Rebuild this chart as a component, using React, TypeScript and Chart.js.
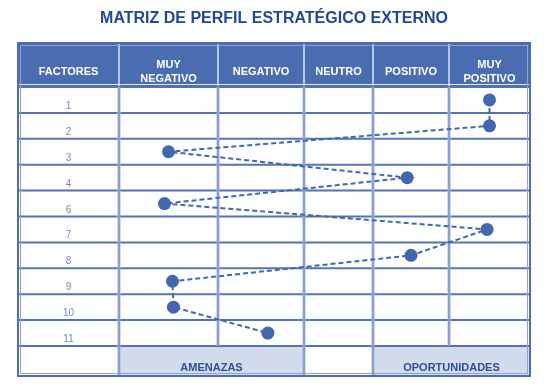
import React, { useEffect, useRef } from 'react';
import { Chart, registerables, LinearScale } from 'chart.js';

Chart.register(...registerables);

// ---- data ----
const TITLE = 'MATRIZ DE PERFIL ESTRATÉGICO EXTERNO';
const COLUMN_LABELS: (string | string[])[] = ['FACTORES', ['MUY', 'NEGATIVO'], 'NEGATIVO', 'NEUTRO', 'POSITIVO', ['MUY', 'POSITIVO']];
const ROW_LABELS = ['1', '2', '3', '4', '6', '7', '8', '9', '10', '11'];
// position along the rating columns (1 = muy negativo ... 5 = muy positivo; column k spans [k, k+1])
const RATINGS = [5.5, 5.5, 1.5, 4.45, 1.46, 5.47, 4.5, 1.54, 1.55, 2.58];
const FOOTER_GROUPS = [
  { label: 'AMENAZAS', from: 1, to: 3 },
  { label: 'OPORTUNIDADES', from: 4, to: 6 },
];

// ---- layout ----
const COLUMN_WIDTHS = [101, 99, 86, 69, 76, 81];
const HEADER_H = 44;
const FOOTER_H = 30;
const FONT = '"Liberation Sans", Arial, sans-serif';
const HEADER_BLUE = '#4A6CB0';
const FOOTER_FILL = '#D2DCEE';
const MARK = '#4267AE';

class ColumnScale extends LinearScale {
  static id = 'column';
  static defaults = (LinearScale as any).defaults;
  getPixelForValue(value: number) {
    if (value === null || value === undefined || isNaN(value)) return NaN;
    const total = COLUMN_WIDTHS.reduce((a, b) => a + b, 0);
    const i = Math.max(0, Math.min(Math.floor(value), COLUMN_WIDTHS.length - 1));
    let acc = 0;
    for (let k = 0; k < i; k++) acc += COLUMN_WIDTHS[k];
    acc += (value - i) * COLUMN_WIDTHS[i];
    return (this as any).getPixelForDecimal(acc / total);
  }
}
Chart.register(ColumnScale as any);

const tablePlugin = {
  id: 'tablePlugin',
  beforeDatasetsDraw(chart: any) {
    const { ctx, chartArea, scales } = chart;
    const xs = scales.x;
    const ys = scales.y;
    const colX = COLUMN_WIDTHS.map((_, k) => xs.getPixelForValue(k)).concat([xs.getPixelForValue(COLUMN_WIDTHS.length)]);
    colX[colX.length - 1] = chartArea.right;
    const rowY = ROW_LABELS.map((_, i) => ys.getPixelForValue(i - 0.5)).concat([ys.getPixelForValue(ROW_LABELS.length - 0.5)]);
    const top = chartArea.top - HEADER_H;
    const bottom = chartArea.bottom + FOOTER_H;
    const left = chartArea.left;
    const right = chartArea.right;
    ctx.save();

    // title
    ctx.fillStyle = '#1F4794';
    ctx.font = `bold 16px ${FONT}`;
    ctx.textAlign = 'center';
    ctx.textBaseline = 'middle';
    ctx.fillText(TITLE, (left + right) / 2, 19);

    // header fill
    ctx.fillStyle = HEADER_BLUE;
    ctx.fillRect(left, top, right - left, HEADER_H);
    // footer fills
    FOOTER_GROUPS.forEach((g) => {
      ctx.fillStyle = FOOTER_FILL;
      ctx.fillRect(colX[g.from], chartArea.bottom, colX[g.to] - colX[g.from], FOOTER_H);
    });

    // header separators
    ctx.strokeStyle = '#B7C7E8';
    ctx.lineWidth = 2;
    for (let k = 1; k < colX.length - 1; k++) {
      ctx.beginPath();
      ctx.moveTo(colX[k], top);
      ctx.lineTo(colX[k], chartArea.top);
      ctx.stroke();
    }

    // horizontal lines
    ctx.strokeStyle = '#5473B6';
    ctx.lineWidth = 2;
    rowY.forEach((y) => {
      ctx.beginPath();
      ctx.moveTo(left, y);
      ctx.lineTo(right, y);
      ctx.stroke();
    });
    ctx.strokeStyle = '#E6ECF7';
    ctx.lineWidth = 1;
    ctx.beginPath();
    ctx.moveTo(left, chartArea.top - 2.5);
    ctx.lineTo(right, chartArea.top - 2.5);
    ctx.stroke();

    // vertical lines in body and footer
    for (let k = 1; k < colX.length - 1; k++) {
      const merged = FOOTER_GROUPS.some((g) => k > g.from && k < g.to);
      const yEnd = merged ? chartArea.bottom : bottom;
      ctx.strokeStyle = '#A3B6DE';
      ctx.lineWidth = 3;
      ctx.beginPath();
      ctx.moveTo(colX[k], chartArea.top);
      ctx.lineTo(colX[k], yEnd);
      ctx.stroke();
      ctx.strokeStyle = '#6F8AC3';
      ctx.lineWidth = 1;
      ctx.beginPath();
      ctx.moveTo(colX[k], chartArea.top);
      ctx.lineTo(colX[k], yEnd);
      ctx.stroke();
    }

    // outer border
    ctx.strokeStyle = '#8FA4D3';
    ctx.lineWidth = 1;
    ctx.strokeRect(left + 2.5, top + 2.5, right - left - 5, bottom - top - 5);
    ctx.strokeStyle = '#4E6EB2';
    ctx.lineWidth = 2;
    ctx.strokeRect(left, top, right - left, bottom - top);

    // header labels
    ctx.fillStyle = '#FFFFFF';
    ctx.font = `bold 11px ${FONT}`;
    ctx.textBaseline = 'middle';
    COLUMN_LABELS.forEach((lab, k) => {
      const cx = (colX[k] + colX[k + 1]) / 2;
      const cy = top + HEADER_H / 2 + 7;
      if (Array.isArray(lab)) {
        ctx.fillText(lab[0], cx, cy - 7);
        ctx.fillText(lab[1], cx, cy + 7);
      } else {
        ctx.fillText(lab, cx, cy);
      }
    });

    // row labels
    ctx.fillStyle = '#6E8AC5';
    ctx.font = `10px ${FONT}`;
    ctx.textBaseline = 'alphabetic';
    ROW_LABELS.forEach((lab, i) => {
      ctx.fillText(lab, (colX[0] + colX[1]) / 2, rowY[i + 1] - 4);
    });

    // footer labels
    ctx.fillStyle = '#2D4F9B';
    ctx.font = `bold 11px ${FONT}`;
    FOOTER_GROUPS.forEach((g) => {
      ctx.fillText(g.label, (colX[g.from] + colX[g.to]) / 2, bottom - 5);
    });
    ctx.restore();
  },
};

export default function App() {
  const ref = useRef<HTMLCanvasElement>(null);
  useEffect(() => {
    if (!ref.current) return;
    const chart = new Chart(ref.current, {
      type: 'line',
      data: {
        labels: ROW_LABELS,
        datasets: [
          {
            data: RATINGS,
            borderColor: MARK,
            backgroundColor: MARK,
            borderWidth: 2,
            borderDash: [5, 3],
            pointRadius: 6.5,
            pointBorderWidth: 0,
            pointBackgroundColor: MARK,
            tension: 0,
            fill: false,
          },
        ],
      },
      options: {
        indexAxis: 'y',
        animation: false,
        responsive: true,
        maintainAspectRatio: false,
        layout: { padding: { left: 18, right: 15, top: 87, bottom: 44 } },
        scales: {
          x: { type: 'column' as any, min: 0, max: 6, display: false },
          y: { type: 'category', offset: true, display: false },
        },
        plugins: { legend: { display: false }, tooltip: { enabled: false }, title: { display: false } },
      } as any,
      plugins: [tablePlugin],
    });
    return () => chart.destroy();
  }, []);
  return (
    <div style={{ position: 'fixed', left: 0, top: 0, width: 545, height: 390, background: '#fff' }}>
      <canvas ref={ref} />
    </div>
  );
}
